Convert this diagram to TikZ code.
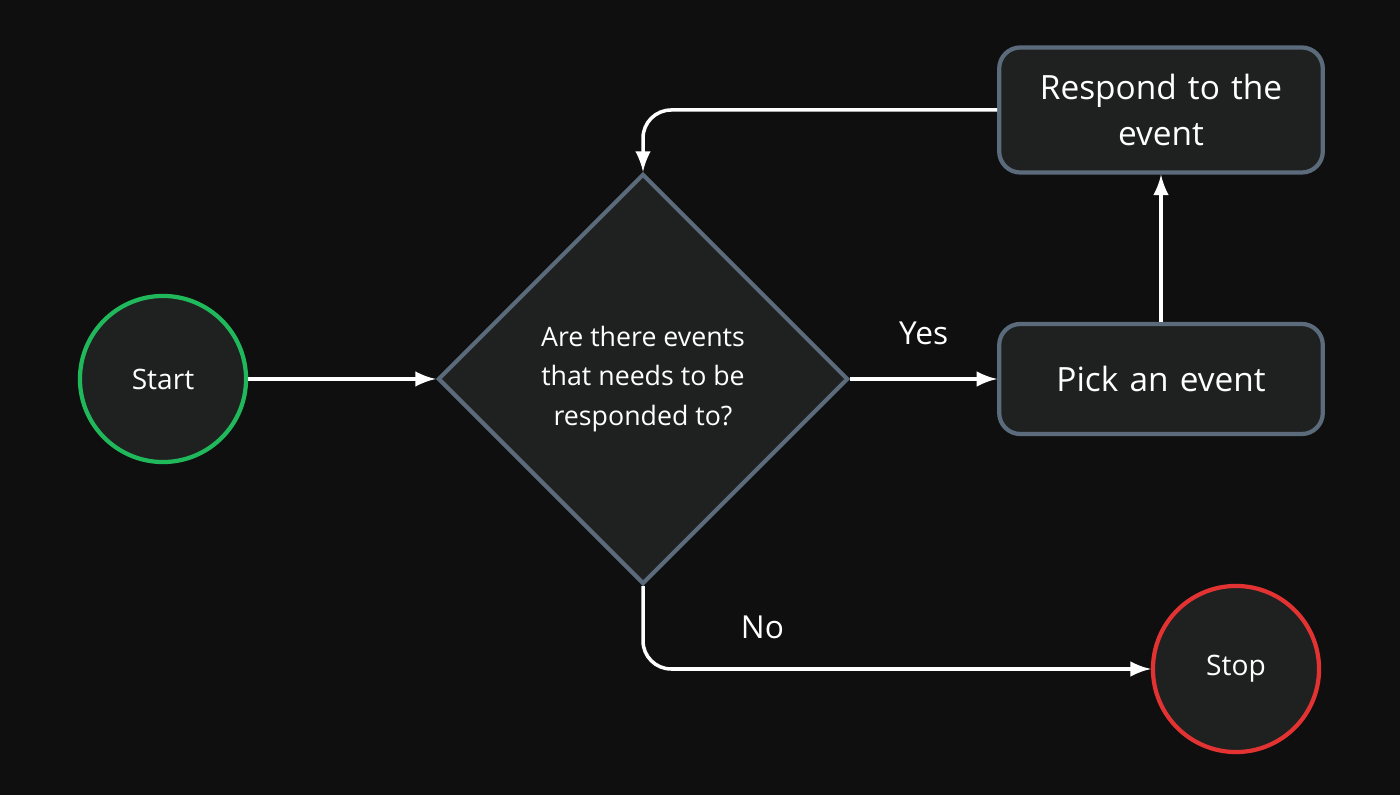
\documentclass[tikz,border=0pt]{standalone}
\usepackage{fontspec}
\setmainfont{Open Sans}
\usetikzlibrary{shapes.geometric}
\definecolor{bgcol}{HTML}{0F0F0F}
\definecolor{nodefill}{HTML}{1F2121}
\definecolor{edgecol}{HTML}{5B6B7B}
\definecolor{startcol}{HTML}{1FB85A}
\definecolor{stopcol}{HTML}{E33232}
\begin{document}
\begin{tikzpicture}[>=latex, semithick, x=0.01cm, y=-0.01cm,
  every node/.style={text=white},
  term/.style={circle, draw, line width=1.2pt, fill=nodefill, minimum size=1.66cm, inner sep=0pt, font=\fontsize{8}{10}\selectfont},
  box/.style={rectangle, rounded corners=6pt, draw=edgecol, line width=1.2pt, fill=nodefill, minimum width=3.16cm, text width=3cm, align=center, font=\fontsize{9.5}{13}\selectfont},
  flow/.style={->, white, line width=1pt}]
  \fill[bgcol] (0,0) rectangle (1400,795);
  \node[term, draw=startcol] (start) at (163,379) {Start};
  \node[diamond, draw=edgecol, line width=1.2pt, fill=nodefill, minimum width=4.1cm, minimum height=4.1cm, inner sep=0pt, align=center, font=\fontsize{7.6}{11.3}\selectfont] (ask) at (643,379) {Are there events\\that needs to be\\responded to?};
  \node[box, minimum height=1.1cm] (pick) at (1161,379) {Pick an event};
  \node[box, minimum height=1.25cm] (resp) at (1161,110) {Respond to the\\event};
  \node[term, draw=stopcol] (stop) at (1236,669) {Stop};
  \draw[flow] (start) -- (ask);
  \draw[flow] (ask) -- node[above=6pt, font=\fontsize{9}{11}\selectfont] {Yes} (pick);
  \draw[flow] (pick) -- (resp);
  \draw[flow, rounded corners=8pt] (resp.west) -| (ask.north);
  \draw[flow, rounded corners=8pt] (ask.south) |- node[pos=0.25, right=24pt, font=\fontsize{9}{11}\selectfont] {No} (stop.west);
\end{tikzpicture}
\end{document}
